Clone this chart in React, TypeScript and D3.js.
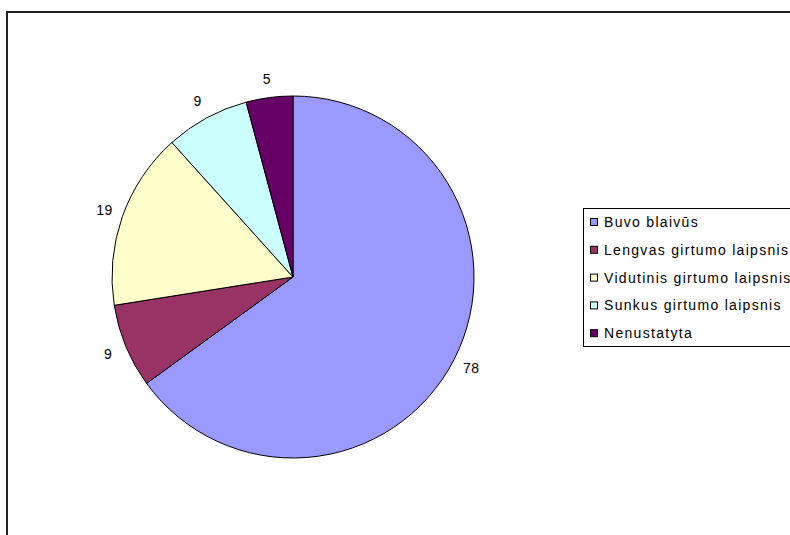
import React from "react";
import * as d3 from "d3";

const categories = ["Buvo blaivūs", "Lengvas girtumo laipsnis", "Vidutinis girtumo laipsnis", "Sunkus girtumo laipsnis", "Nenustatyta"];
const values = [78, 9, 19, 9, 5];
const colors = ["#9999FF", "#993366", "#FFFFCC", "#CCFFFF", "#660066"];

const W = 790, H = 535;
const cx = 293, cy = 277, R = 181, labelR = 200;

export default function App() {
  const pie = d3.pie<number>().sort(null).value((d) => d)(values);
  const arc = d3.arc<d3.PieArcDatum<number>>().innerRadius(0).outerRadius(R);
  const font = "'Liberation Sans', Arial, sans-serif";
  return (
    <svg width={W} height={H} style={{ position: "absolute", left: 0, top: 0 }} fontFamily={font}>
      <rect x={0} y={0} width={W} height={H} fill="#fff" />
      <rect x={7} y={12} width={W + 20} height={H + 20} fill="none" stroke="#222" strokeWidth={2} />
      <g transform={`translate(${cx},${cy})`}>
        {pie.map((p, i) => (
          <path key={i} d={arc(p) || ""} fill={colors[i]} stroke="#000" strokeWidth={1} />
        ))}
        {pie.map((p, i) => {
          const a = (p.startAngle + p.endAngle) / 2;
          return (
            <text key={i} x={labelR * Math.sin(a)} y={-labelR * Math.cos(a)} textAnchor="middle" dominantBaseline="central" fontSize={14} letterSpacing={0.5} fill="#000">
              {values[i]}
            </text>
          );
        })}
      </g>
      <rect x={583.5} y={208.5} width={230} height={138} fill="#fff" stroke="#000" strokeWidth={1} />
      {categories.map((c, i) => {
        const y = 222 + i * 27.8;
        return (
          <g key={i}>
            <rect x={590.5} y={y - 3.5} width={7} height={7} fill={colors[i]} stroke="#000" strokeWidth={1} />
            <text x={604} y={y} dominantBaseline="central" fontSize={14} letterSpacing={1.3} fill="#000">{c}</text>
          </g>
        );
      })}
    </svg>
  );
}
